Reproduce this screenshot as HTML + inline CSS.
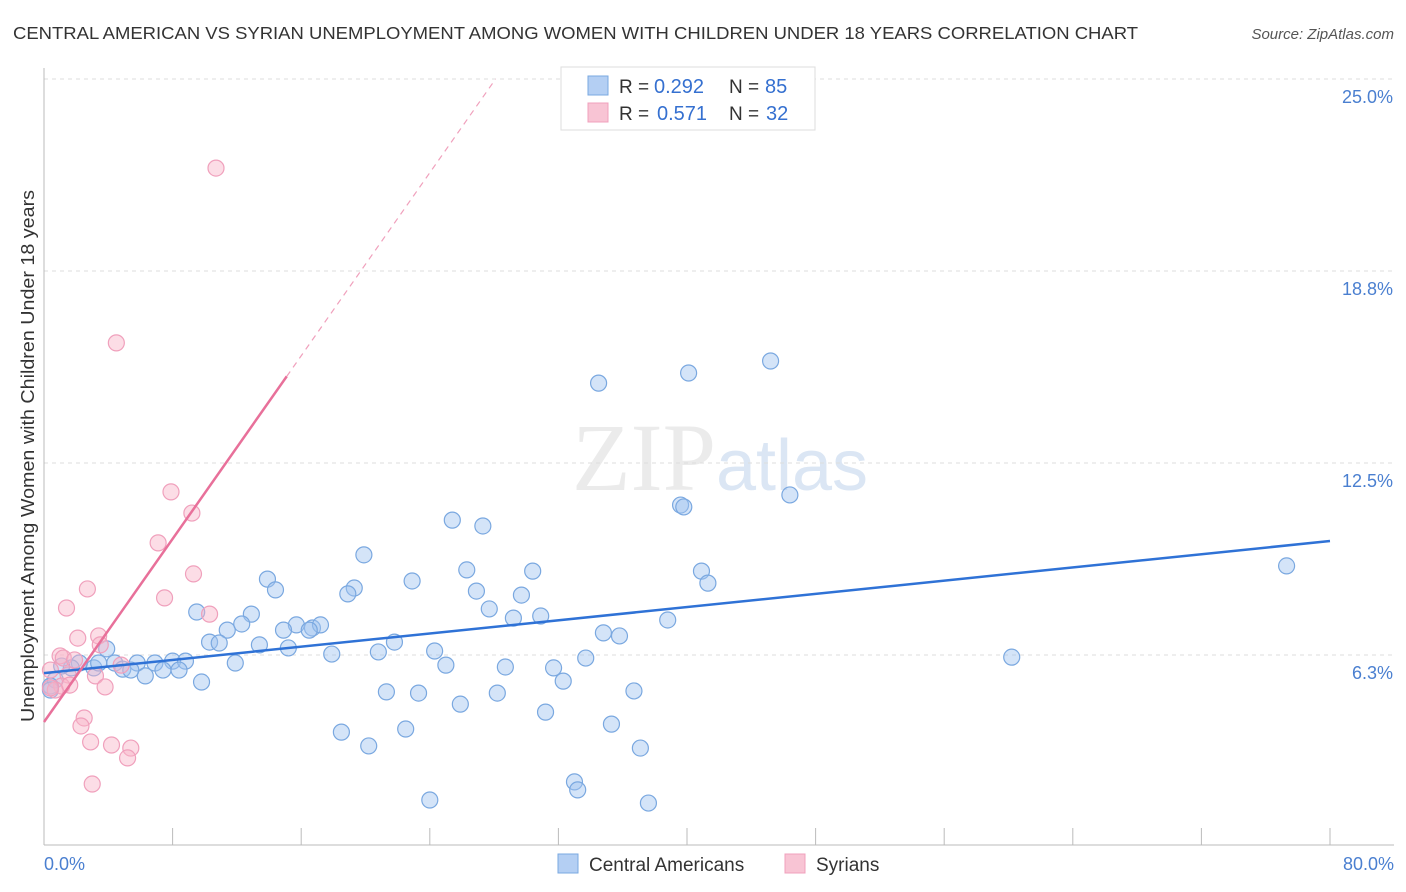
<!DOCTYPE html>
<html><head><meta charset="utf-8"><style>
body{margin:0;background:#fff;font-family:"Liberation Sans",sans-serif}
svg{display:block}
</style></head><body>
<svg id="chart" width="1406" height="892" xmlns="http://www.w3.org/2000/svg" font-family="Liberation Sans, sans-serif">
<text x="13" y="39" font-size="17.5" fill="#333" textLength="1125" lengthAdjust="spacingAndGlyphs">CENTRAL AMERICAN VS SYRIAN UNEMPLOYMENT AMONG WOMEN WITH CHILDREN UNDER 18 YEARS CORRELATION CHART</text>
<text x="1394" y="39" font-size="15" fill="#555" text-anchor="end" font-style="italic">Source: ZipAtlas.com</text>
<text x="720" y="490" font-size="96" text-anchor="middle" fill="#ebebeb" font-family="Liberation Serif, serif">ZIP<tspan fill="#dbe6f4" font-family="Liberation Sans, sans-serif" font-size="72">atlas</tspan></text>
<g id="grid"></g>
<line x1="44" y1="68" x2="44" y2="845" stroke="#bbb"/>
<line x1="44" y1="845" x2="1394" y2="845" stroke="#bbb"/>
<g id="xticks"></g>
<text transform="translate(34,456) rotate(-90)" font-size="18" fill="#333" text-anchor="middle" textLength="532" lengthAdjust="spacingAndGlyphs">Unemployment Among Women with Children Under 18 years</text>
<text x="44" y="870" font-size="18" fill="#4a7fd0">0.0%</text>
<text x="1394" y="870" font-size="18" fill="#4a7fd0" text-anchor="end">80.0%</text>
<g id="points"></g>
<g id="trends"></g>
<g>
<rect x="561" y="67" width="254" height="63" fill="#fff" stroke="#ddd"/>
<rect x="588" y="76" width="20" height="19" fill="#b4cff3" stroke="#7aa8e0"/>
<rect x="588" y="103" width="20" height="19" fill="#f8c4d4" stroke="#f0a0bc"/>
<text x="619" y="93" font-size="19" fill="#333">R =</text>
<text x="654" y="93" font-size="20" fill="#3570d0">0.292</text>
<text x="729" y="93" font-size="19" fill="#333">N =</text>
<text x="765" y="93" font-size="20" fill="#3570d0">85</text>
<text x="619" y="120" font-size="19" fill="#333">R =</text>
<text x="657" y="120" font-size="20" fill="#3570d0">0.571</text>
<text x="729" y="120" font-size="19" fill="#333">N =</text>
<text x="766" y="120" font-size="20" fill="#3570d0">32</text>
</g>
<g>
<rect x="558" y="854" width="20" height="19" fill="#b4cff3" stroke="#7aa8e0"/>
<text x="589" y="871" font-size="19" fill="#333">Central Americans</text>
<rect x="785" y="854" width="20" height="19" fill="#f8c4d4" stroke="#f0a0bc"/>
<text x="816" y="871" font-size="19" fill="#333">Syrians</text>
</g>
</svg>
<script>
const yTicks=[25,18.75,12.5,6.25];
const yTickLabels=["25.0%","18.8%","12.5%","6.3%"];
const xTicks=[0,8,16,24,32,40,48,56,64,72,80];
const blueX=[34.5,40.1,45.2,39.6,39.8,46.4,25.4,27.3,77.3,19.9,26.3,30.4,40.9,41.3,22.9,13.9,14.4,19.3,18.9,26.9,29.7,27.7,9.5,12.9,29.2,30.9,38.8,11.4,12.3,15.7,14.9,16.7,17.2,16.5,34.8,35.8,10.3,10.9,13.4,15.2,21.8,20.8,17.9,24.3,33.7,60.2,3.9,11.9,25.0,28.7,31.7,32.3,5.8,6.9,8.0,8.8,7.4,8.4,6.3,4.4,4.9,5.4,3.1,3.4,2.2,1.7,1.1,0.7,0.4,0.4,9.8,21.3,23.3,28.2,36.7,25.9,31.2,35.3,18.5,22.5,20.2,37.1,33.0,33.2,24.0,37.6];
const blueY=[15.1,15.43,15.82,11.13,11.07,11.46,10.64,10.45,9.15,9.51,9.02,8.98,8.98,8.59,8.66,8.72,8.37,8.43,8.24,8.33,8.20,7.75,7.65,7.58,7.45,7.52,7.39,7.06,7.26,7.23,7.06,7.13,7.23,7.06,6.97,6.87,6.67,6.64,6.58,6.48,6.67,6.35,6.28,6.38,6.15,6.18,6.45,5.99,5.92,5.86,5.83,5.40,5.99,5.99,6.05,6.05,5.76,5.76,5.57,5.99,5.79,5.76,5.83,5.99,5.99,5.83,5.89,5.44,5.24,5.11,5.37,5.05,5.01,5.01,5.08,4.65,4.39,4.00,3.74,3.84,3.29,3.22,2.12,1.86,1.53,1.43];
const pinkX=[10.7,4.5,7.9,9.2,7.1,9.3,7.5,2.7,1.4,10.3,2.1,3.4,3.5,1.0,1.2,1.9,4.8,3.2,1.5,1.1,0.7,0.4,3.8,2.5,2.3,4.2,5.4,2.9,5.2,3.0,0.4,1.6];
const pinkY=[22.10,16.41,11.56,10.87,9.90,8.89,8.11,8.40,7.78,7.58,6.80,6.87,6.58,6.22,6.15,6.09,5.92,5.57,5.60,5.24,5.11,5.18,5.21,4.20,3.94,3.32,3.22,3.42,2.90,2.05,5.76,5.27];
const blueTrend=[5.66,9.96];
const pinkTrend=[4.07,0.745];
const NS="http://www.w3.org/2000/svg";
const sx=v=>44+v*16.075;
const sy=v=>79+(25-v)*30.72;
function mk(tag,attrs,parent){const e=document.createElementNS(NS,tag);for(const k in attrs)e.setAttribute(k,attrs[k]);document.getElementById(parent).appendChild(e);return e;}
yTicks.forEach((t,i)=>{
 const l=mk('line',{x1:44,x2:1394,y1:sy(t),y2:sy(t),stroke:'#ddd','stroke-dasharray':'4,4'},'grid');
 
 
 const tx=mk('text',{x:1393,y:sy(t)+24,'font-size':18,fill:'#4a7fd0','text-anchor':'end'},'grid');
 tx.textContent=yTickLabels[i];
 
 
});
xTicks.forEach(t=>{
 const l=mk('line',{x1:sx(t),x2:sx(t),y1:828,y2:845,stroke:'#bbb'},'xticks');
 
 
});
blueX.forEach((x,i)=>{
 const c=mk('circle',{cx:sx(x),cy:sy(blueY[i]),r:8,fill:'rgba(160,196,240,0.45)',stroke:'#7aa8e0','stroke-width':1.2},'points');
 
 
});
pinkX.forEach((x,i)=>{
 const c=mk('circle',{cx:sx(x),cy:sy(pinkY[i]),r:8,fill:'rgba(248,180,200,0.45)',stroke:'#f0a0bc','stroke-width':1.2},'points');
 
 
});
const bl=mk('line',{x1:sx(0),y1:sy(blueTrend[0]),x2:sx(80),y2:sy(blueTrend[1]),stroke:'#2f72d6','stroke-width':2.5},'trends');


const pEnd=15.1, pMax=(25-pinkTrend[0])/pinkTrend[1];
const pl=mk('line',{x1:sx(0),y1:sy(pinkTrend[0]),x2:sx(pEnd),y2:sy(pinkTrend[0]+pinkTrend[1]*pEnd),stroke:'#e8709a','stroke-width':2.5},'trends');


const pd=mk('line',{x1:sx(pEnd),y1:sy(pinkTrend[0]+pinkTrend[1]*pEnd),x2:sx(pMax),y2:sy(25),stroke:'#f0a0bc','stroke-width':1.2,'stroke-dasharray':'6,5'},'trends');


</script>
</body></html>
